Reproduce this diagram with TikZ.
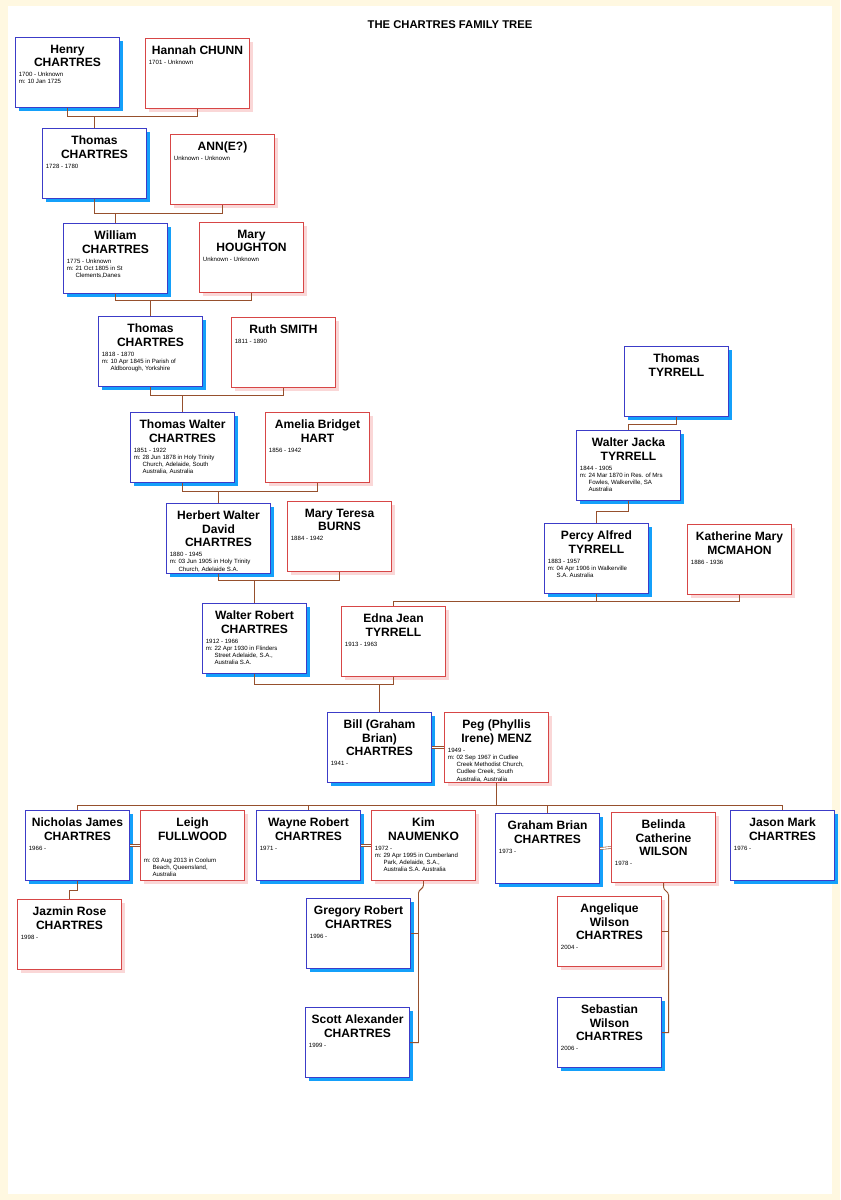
\documentclass[tikz,border=0pt]{standalone}
\usepackage{fontspec}
\setmainfont{Liberation Sans}
\usetikzlibrary{shadows}

\definecolor{maleline}{RGB}{60,60,200}
\definecolor{maleshade}{RGB}{20,160,250}
\definecolor{femline}{RGB}{215,70,70}
\definecolor{femshade}{RGB}{250,215,215}
\definecolor{linkline}{RGB}{150,80,45}
\definecolor{pagecream}{RGB}{255,248,225}

\tikzset{
  box/.style={draw, line width=0.9pt, fill=white, inner sep=1mm, anchor=north west,
    minimum width=31.2mm, minimum height=21mm},
  male/.style={box, draw=maleline,
    drop shadow={fill=maleshade, opacity=1, shadow xshift=1.1mm, shadow yshift=-1.1mm}},
  female/.style={box, draw=femline,
    drop shadow={fill=femshade, opacity=1, shadow xshift=0.9mm, shadow yshift=-0.9mm}},
  link/.style={draw=linkline, line width=0.8pt},
  wed/.style={draw=linkline, double, double distance=1.2pt, line width=0.5pt}
}

\newcommand\marr[1]{\par\hangindent=2.6mm\hangafter=1\makebox[2.6mm][l]{m:}#1}
% name, style, x, y, title, details
\newcommand\person[6]{%
  \node[#2] (#1) at (#3,#4) {\parbox[t][19mm][t]{29.2mm}{%
    \vspace*{1.2mm}
    {\centering\fontsize{10.3}{11.6}\selectfont\bfseries #5\par}
    \vspace{0.8mm}
    \fontsize{5.2}{6.2}\selectfont
    \parbox[t]{25mm}{\raggedright #6\par}}};}

\begin{document}
\begin{tikzpicture}[x=0.3mm, y=-0.3mm]
\fill[pagecream] (0,0) rectangle (840,1200);
\fill[white] (8,6) rectangle (832,1194);
\node[font=\fontsize{9.6}{11}\selectfont\bfseries] (title) at (450,25) {THE CHARTRES FAMILY TREE};

% Chartres line
\person{henry}{male}{15}{37}{Henry\\CHARTRES}{1700 - Unknown\marr{10 Jan 1725}}
\person{hannah}{female}{145}{38}{Hannah CHUNN}{1701 - Unknown}
\person{thomasa}{male}{42}{128}{Thomas\\CHARTRES}{1728 - 1780}
\person{ann}{female}{170}{134}{ANN(E?)}{Unknown - Unknown}
\person{william}{male}{63}{223}{William\\CHARTRES}{1775 - Unknown\marr{21 Oct 1805 in St Clements,Danes}}
\person{mary}{female}{199}{222}{Mary\\HOUGHTON}{Unknown - Unknown}
\person{thomasb}{male}{98}{316}{Thomas\\CHARTRES}{1818 - 1870\marr{10 Apr 1845 in Parish of Aldborough, Yorkshire}}
\person{ruth}{female}{231}{317}{Ruth SMITH}{1811 - 1890}
\person{thomasw}{male}{130}{412}{Thomas Walter\\CHARTRES}{1851 - 1922\marr{28 Jun 1878 in Holy Trinity Church, Adelaide, South Australia, Australia}}
\person{amelia}{female}{265}{412}{Amelia Bridget\\HART}{1856 - 1942}
\person{herbert}{male}{166}{503}{Herbert Walter\\David\\CHARTRES}{1880 - 1945\marr{03 Jun 1905 in Holy Trinity Church, Adelaide S.A.}}
\person{teresa}{female}{287}{501}{Mary Teresa\\BURNS}{1884 - 1942}
\person{walterr}{male}{202}{603}{Walter Robert\\CHARTRES}{1912 - 1966\marr{22 Apr 1930 in Flinders Street Adelaide, S.A., Australia S.A.}}
\person{edna}{female}{341}{606}{Edna Jean\\TYRRELL}{1913 - 1963}

% Tyrrell line
\person{thomast}{male}{624}{346}{Thomas\\TYRRELL}{}
\person{walterj}{male}{576}{430}{Walter Jacka\\TYRRELL}{1844 - 1905\marr{24 Mar 1870 in Res. of Mrs Fowles, Walkerville, SA Australia}}
\person{percy}{male}{544}{523}{Percy Alfred\\TYRRELL}{1883 - 1957\marr{04 Apr 1906 in Walkerville S.A. Australia}}
\person{katherine}{female}{687}{524}{Katherine Mary\\MCMAHON}{1886 - 1936}

% Bill and Peg
\person{bill}{male}{327}{712}{Bill (Graham\\Brian)\\CHARTRES}{1941 -}
\person{peg}{female}{444}{712}{Peg (Phyllis\\Irene) MENZ}{1949 -\marr{02 Sep 1967 in Cudlee Creek Methodist Church, Cudlee Creek, South Australia, Australia}}
\person{nicholas}{male}{25}{810}{Nicholas James\\CHARTRES}{1966 -}
\person{leigh}{female}{140}{810}{Leigh\\FULLWOOD}{\mbox{}\par\vspace{1.5mm}\marr{03 Aug 2013 in Coolum Beach, Queensland, Australia}}
\person{wayne}{male}{256}{810}{Wayne Robert\\CHARTRES}{1971 -}
\person{kim}{female}{371}{810}{Kim\\NAUMENKO}{1972 -\marr{29 Apr 1995 in Cumberland Park, Adelaide, S.A., Australia S.A. Australia}}
\person{graham}{male}{495}{813}{Graham Brian\\CHARTRES}{1973 -}
\person{belinda}{female}{611}{812}{Belinda\\Catherine\\WILSON}{1978 -}
\person{jason}{male}{730}{810}{Jason Mark\\CHARTRES}{1976 -}
\person{jazmin}{female}{17}{899}{Jazmin Rose\\CHARTRES}{1998 -}
\person{gregory}{male}{306}{898}{Gregory Robert\\CHARTRES}{1996 -}
\person{scott}{male}{305}{1007}{Scott Alexander\\CHARTRES}{1999 -}
\person{angelique}{female}{557}{896}{Angelique\\Wilson\\CHARTRES}{2004 -}
\person{sebastian}{male}{557}{997}{Sebastian\\Wilson\\CHARTRES}{2006 -}

% couples and children
\draw[link] (henry.south) -- (henry.south |- 0,116) -| (hannah.south);
\draw[link] (thomasa.north) -- (thomasa.north |- 0,116);
\draw[link] (thomasa.south) -- (thomasa.south |- 0,213) -| (ann.south);
\draw[link] (william.north) -- (william.north |- 0,213);
\draw[link] (william.south) -- (william.south |- 0,300) -| (mary.south);
\draw[link] (thomasb.north) -- (thomasb.north |- 0,300);
\draw[link] (thomasb.south) -- (thomasb.south |- 0,395) -| (ruth.south);
\draw[link] (thomasw.north) -- (thomasw.north |- 0,395);
\draw[link] (thomasw.south) -- (thomasw.south |- 0,491) -| (amelia.south);
\draw[link] (herbert.north) -- (herbert.north |- 0,491);
\draw[link] (herbert.south) -- (herbert.south |- 0,580) -| (teresa.south);
\draw[link] (walterr.north) -- (walterr.north |- 0,580);
\draw[link] (thomast.south) -- (thomast.south |- 0,424) -| (walterj.north);
\draw[link] (walterj.south) -- (walterj.south |- 0,511) -| (percy.north);
\draw[link] (edna.north) -- (edna.north |- 0,601) -| (katherine.south);
\draw[link] (percy.south) -- (percy.south |- 0,601);
\draw[link] (walterr.south) -- (walterr.south |- 0,684) -| (edna.south);
\draw[link] (bill.north) -- (bill.north |- 0,684);
\draw[wed] (bill.east) -- (peg.west);
\draw[link] (peg.south) -- (peg.south |- 0,805);
\draw[link] (nicholas.north) -- (nicholas.north |- 0,805) -| (jason.north);
\draw[link] (wayne.north) -- (wayne.north |- 0,805);
\draw[link] (graham.north) -- (graham.north |- 0,805);
\draw[wed] (nicholas.east) -- (leigh.west);
\draw[wed] (wayne.east) -- (kim.west);
\draw[wed] (graham.east) -- (belinda.west);
\draw[link] (nicholas.south) -- (nicholas.south |- 0,890) -| (jazmin.north);
\draw[link] (kim.south) -- ++(0,4) to[out=-90,in=90] ++(-5,8) |- (scott.east);
\draw[link] (gregory.east) -- (gregory.east -| 418,0);
\draw[link] (belinda.south) -- ++(0,4) to[out=-90,in=90] ++(5,8) |- (sebastian.east);
\draw[link] (angelique.east) -- (angelique.east -| 668,0);
\end{tikzpicture}
\end{document}
